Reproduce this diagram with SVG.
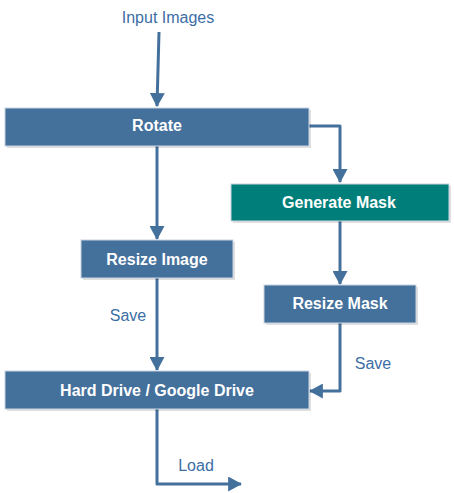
<svg xmlns="http://www.w3.org/2000/svg" width="454" height="493" viewBox="0 0 454 493">
<style>
.box{fill:#44709C;stroke:#C9D4E0;stroke-width:1}
.teal{fill:#007F7A;stroke:#C9D4E0;stroke-width:1}
.shadow{fill:#000;opacity:0.12}
.lbl{font-family:"Liberation Sans",Arial,sans-serif;font-weight:bold;font-size:16px;fill:#fff;text-anchor:middle}
.txt{font-family:"Liberation Sans",Arial,sans-serif;font-size:16px;fill:#3B6EA5}
.ln{fill:none;stroke:#44709C;stroke-width:3;stroke-linejoin:round}
</style>
<defs>
<marker id="ah" markerWidth="5" markerHeight="5" refX="4.3" refY="2.5" orient="auto" markerUnits="strokeWidth">
<path d="M0,0 L4.6,2.5 L0,5 Z" fill="#44709C"/>
</marker>
</defs>
<g id="connectors">
<line class="ln" x1="159" y1="32" x2="157" y2="106" marker-end="url(#ah)"/>
<polyline class="ln" points="309,126 340,126 340,182" marker-end="url(#ah)"/>
<line class="ln" x1="157" y1="146" x2="157" y2="239" marker-end="url(#ah)"/>
<line class="ln" x1="340" y1="221" x2="340" y2="284" marker-end="url(#ah)"/>
<line class="ln" x1="157" y1="278" x2="157" y2="370" marker-end="url(#ah)"/>
<polyline class="ln" points="340,323 340,391 310,391" marker-end="url(#ah)"/>
<polyline class="ln" points="157,409 157,484 241,484" marker-end="url(#ah)"/>
</g>
<text class="txt" x="168" y="23" text-anchor="middle">Input Images</text>
<text class="txt" x="128" y="321" text-anchor="middle">Save</text>
<text class="txt" x="373" y="369" text-anchor="middle">Save</text>
<text class="txt" x="196" y="471" text-anchor="middle">Load</text>
<g id="rotate">
<rect class="shadow" x="7" y="110" width="304" height="38"/>
<rect class="box" x="5" y="108" width="304" height="38"/>
<text class="lbl" x="157" y="131">Rotate</text>
</g>
<g id="generate-mask">
<rect class="shadow" x="233" y="186" width="218" height="37"/>
<rect class="teal" x="231" y="184" width="218" height="37"/>
<text class="lbl" x="339" y="208">Generate Mask</text>
</g>
<g id="resize-image">
<rect class="shadow" x="83" y="242" width="152" height="38"/>
<rect class="box" x="81" y="240" width="152" height="38"/>
<text class="lbl" x="157" y="265">Resize Image</text>
</g>
<g id="resize-mask">
<rect class="shadow" x="266" y="287" width="152" height="38"/>
<rect class="box" x="264" y="285" width="152" height="38"/>
<text class="lbl" x="340" y="309">Resize Mask</text>
</g>
<g id="hard-drive">
<rect class="shadow" x="7" y="373" width="304" height="38"/>
<rect class="box" x="5" y="371" width="304" height="38"/>
<text class="lbl" x="157" y="396">Hard Drive / Google Drive</text>
</g>
</svg>
